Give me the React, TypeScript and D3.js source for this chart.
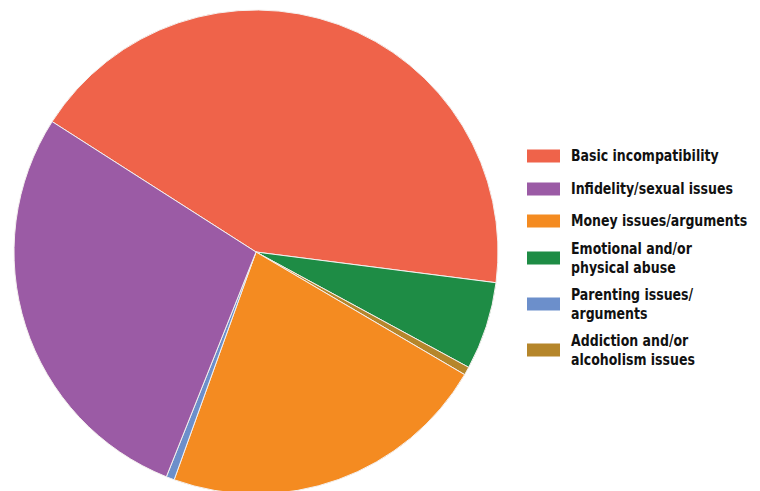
import React from "react";
import * as d3 from "d3";

const categories = [
  "Basic incompatibility",
  "Infidelity/sexual issues",
  "Money issues/arguments",
  "Emotional and/or physical abuse",
  "Parenting issues/ arguments",
  "Addiction and/or alcoholism issues",
];
const values = [43.1, 28.1, 22.1, 5.9, 0.55, 0.55];
const colors = ["#EF634A", "#9B5BA5", "#F48B21", "#1E8C45", "#6C8FCB", "#B5862B"];
const legendLines = [
  ["Basic incompatibility"],
  ["Infidelity/sexual issues"],
  ["Money issues/arguments"],
  ["Emotional and/or", "physical abuse"],
  ["Parenting issues/", "arguments"],
  ["Addiction and/or", "alcoholism issues"],
];
// clockwise drawing order of the slices (indices into categories)
const pieOrder = [0, 3, 5, 2, 4, 1];

export default function App() {
  const W = 760, H = 491;
  const cx = 256, cy = 252, r = 242;
  const start = (-57.4 * Math.PI) / 180;
  const pie = d3
    .pie<number>()
    .sort(null)
    .value((i) => values[i])
    .startAngle(start)
    .endAngle(start + 2 * Math.PI);
  const arcs = pie(pieOrder);
  const arc = d3.arc<d3.PieArcDatum<number>>().innerRadius(0).outerRadius(r);
  const rowY = [156, 189, 221, 258, 304, 350];
  const font = "'DejaVu Sans Condensed', 'Liberation Sans Narrow', 'Roboto', sans-serif";
  const tx = 571;
  return (
    <svg width={W} height={H} style={{ position: "absolute", left: 0, top: 0, background: "#fff" }}>
      <g transform={`translate(${cx},${cy})`}>
        {arcs.map((a) => (
          <path key={a.data} d={arc(a) || ""} fill={colors[a.data]} stroke="#f4f0ee" strokeWidth={1} />
        ))}
      </g>
      {categories.map((c, i) => {
        const lines = legendLines[i];
        const y = rowY[i];
        return (
          <g key={c}>
            <rect x={527} y={y - 6.5} width={33} height={13} fill={colors[i]} />
            <g transform={`translate(${tx},0) scale(0.93,1)`}>
              {lines.map((ln, j) => (
                <text
                  key={j}
                  x={0}
                  y={y + (lines.length === 1 ? 0 : (j - 0.5) * 19)}
                  dy="0.36em"
                  fontFamily={font}
                  fontWeight="bold"
                  fontSize={15}
                  fill="#111"
                >
                  {ln}
                </text>
              ))}
            </g>
          </g>
        );
      })}
    </svg>
  );
}
